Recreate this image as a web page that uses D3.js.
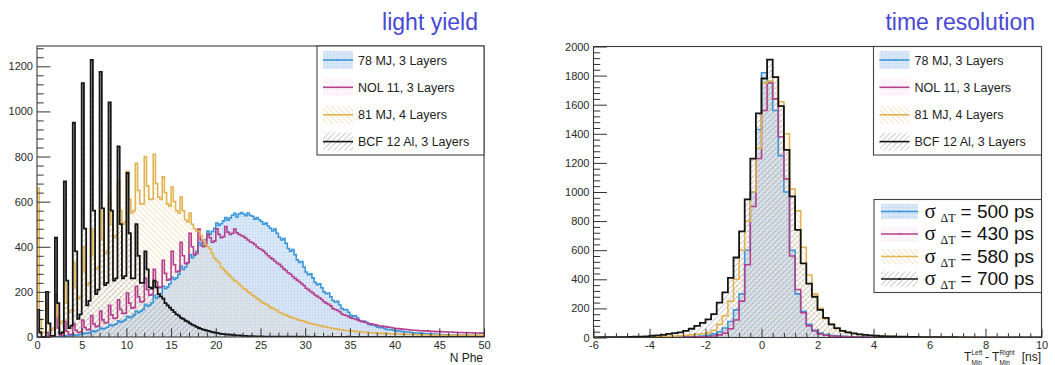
<!DOCTYPE html>
<html><head><meta charset="utf-8">
<script src="https://cdn.jsdelivr.net/npm/d3@7"></script>
<style>
body{margin:0;background:#fff;}
svg{display:block;font-family:"Liberation Sans",Arial,Helvetica,sans-serif;}
</style></head><body>
<svg id="c" width="1055" height="365"></svg>
<script>
// ---------------- DATA ----------------
const seriesNames = ["78 MJ, 3 Layers", "NOL 11, 3 Layers", "81 MJ, 4 Layers", "BCF 12 Al, 3 Layers"];
const sigmaValues = ["500 ps", "430 ps", "580 ps", "700 ps"];
const panelTitles = ["light yield", "time resolution"];

// light yield histograms: bins of 0.25 N Phe starting at 0
const lyBinStart = 0, lyBinWidth = 0.25;
const ly78MJ = [
0,0,0,0, 0,0,0,1, 2,1,2,3, 5,4,5,6, 10,8,9,11,
18,15,17,20, 28,24,27,30, 40,36,39,43, 55,50,54,58, 72,66,70,76,
92,86,90,98, 115,108,114,122, 145,136,142,152, 185,172,180,192, 225,214,222,236,
265,255,262,278, 315,300,310,328, 365,352,362,380, 420,405,415,432, 470,455,468,482,
505,495,502,515, 530,518,528,540, 548,532,545,552, 545,538,550,540, 535,522,530,520,
512,500,505,492, 482,470,478,460, 442,430,436,415, 392,380,388,365, 342,330,335,310,
288,276,280,262, 242,232,236,218, 200,192,195,178, 162,155,158,142, 126,120,122,110,
96,92,94,84, 73,70,71,64, 56,53,54,49, 43,41,42,38, 34,32,33,30,
27,26,26,24, 23,22,22,20, 19,18,18,17, 16,15,15,14, 13,13,12,12,
11,11,10,10, 9,9,9,8, 8,8,7,7, 7,7,6,6, 6,6,5,5];
const lyNOL11 = [
0,0,0,0, 20,4,0,0, 190,40,8,6, 70,25,12,12, 60,30,20,22,
75,42,32,34, 95,58,46,48, 115,76,62,64, 140,98,82,84, 165,122,104,106,
195,150,128,130, 225,178,155,158, 260,210,185,188, 300,245,218,222, 340,282,252,256,
380,320,288,292, 420,360,325,330, 460,400,365,370, 478,430,400,405, 455,440,420,425,
480,455,440,445, 490,465,455,460, 478,462,455,450, 445,438,430,422, 418,410,400,392,
388,380,370,360, 352,345,336,328, 322,312,302,295, 285,278,268,260, 252,245,236,228,
216,210,202,195, 186,180,174,166, 156,150,145,138, 126,122,118,112, 102,98,95,90,
85,82,80,76, 71,68,66,64, 60,58,56,54, 51,49,48,46, 45,43,42,40,
38,37,36,35, 34,33,32,31, 30,30,29,28, 28,27,27,26, 25,25,24,24,
24,23,23,22, 22,22,21,21, 20,20,20,19, 20,19,19,18, 18,18,17,17];
const ly81MJ = [
660,80,20,20, 150,60,30,40, 160,90,60,70, 240,150,110,120, 330,220,170,180,
400,290,230,240, 480,360,300,310, 560,430,370,380, 630,500,440,450, 690,560,500,510,
735,610,550,560, 770,650,590,590, 800,670,610,610, 810,680,620,610, 710,640,590,580,
665,600,560,550, 620,560,520,510, 550,500,480,470, 470,450,430,410, 400,390,370,350,
340,330,310,300, 290,280,270,260, 250,245,235,225, 215,210,200,195, 185,180,170,165,
155,150,145,140, 130,128,122,118, 110,105,100,98, 92,88,85,82, 78,75,72,70,
66,63,60,58, 55,53,50,48, 46,44,42,40, 38,36,35,33, 32,30,29,28,
27,26,25,24, 23,22,21,21, 20,19,19,18, 17,17,16,16, 15,15,14,14,
13,13,13,12, 12,12,11,11, 11,11,10,10, 10,10,10,9, 9,9,9,9,
9,9,8,8, 8,8,8,8, 8,8,8,7, 7,7,7,7, 7,7,7,7];
const lyBCF12 = [
120,20,0,0, 200,60,5,5, 440,150,15,20, 690,250,40,50, 950,380,80,100,
1125,480,140,160, 1228,560,190,210, 1175,570,230,240, 1040,560,250,260, 845,500,260,270,
727,460,260,260, 500,360,240,240, 380,300,220,215, 250,220,190,180, 170,150,140,130,
120,110,100,95, 85,80,72,68, 60,55,50,45, 40,36,33,30, 27,25,22,20,
18,16,14,13, 12,11,10,9, 8,7,7,6, 5,5,4,4, 4,3,3,3,
3,2,2,2, 2,2,2,1, 1,1,1,1, 1,1,1,1, 1,0,1,0,
0,1,0,0, 1,0,0,0, 0,0,1,0, 0,0,0,0, 0,0,0,1,
0,0,0,0, 0,0,0,0, 0,0,0,0, 0,0,0,0, 0,0,0,0,
0,0,0,0, 0,0,0,0, 0,0,0,0, 0,0,0,0, 0,0,0,0,
0,0,0,0, 0,0,0,0, 0,0,0,0, 0,0,0,0, 0,0,0,0];

// time resolution histograms: bins of 0.2 ns starting at -6 ns
const trBinStart = -6, trBinWidth = 0.2;
const tr78MJ = [
0,0,0,0,0,0,0,0,1,0, 1,1,1,2,2,3,4,5,7,10,
15,25,40,65,110,190,300,600,1000,1430,
1820,1760,1560,1250,1000,600,300,180,90,50,
30,20,14,10,8,6,5,4,3,3,
2,2,2,1,1,1,1,1,1,0,
1,0,1,0,0,1,0,0,0,0,
0,0,0,0,0,1,0,0,0,0];
const trNOL11 = [
0,0,0,0,0,0,0,0,0,0, 0,1,1,1,2,2,3,3,4,5,
5,10,18,30,60,120,250,500,900,1230,
1560,1750,1640,1380,1090,560,330,170,80,45,
25,15,10,8,6,5,4,3,3,2,
2,2,1,1,1,1,1,0,1,0,
0,1,0,0,0,0,1,0,0,0,
0,0,0,0,0,0,0,0,0,0];
const tr81MJ = [
0,0,0,0,1,1,1,2,2,3, 4,5,6,8,10,12,15,18,22,26,
30,50,90,150,250,400,600,800,1000,1300,
1750,1760,1790,1620,1400,1020,870,620,430,300,
200,130,90,60,45,35,28,22,18,14,
11,9,8,6,5,4,4,3,3,2,
2,2,1,1,1,1,1,1,1,0,
1,0,0,1,0,0,0,0,0,0];
const trBCF12 = [
1,2,2,2,3,3,4,5,6,8,
12,14,18,25,30,35,45,60,80,100,
125,160,240,310,410,550,730,950,1230,1540,
1780,1910,1790,1590,1290,970,740,510,370,280,
190,135,90,65,45,35,28,22,18,15,
12,10,8,7,6,5,4,4,3,3,
3,2,2,2,2,1,1,1,1,1,
1,1,1,0,1,0,0,1,0,0];

const lyXTicks = [0,5,10,15,20,25,30,35,40,45,50];
const lyYTicks = [0,200,400,600,800,1000,1200];
const trXTicks = [-6,-4,-2,0,2,4,6,8,10];
const trYTicks = [0,200,400,600,800,1000,1200,1400,1600,1800,2000];

// ---------------- STYLE ----------------
const lineColors = ["#3b97da", "#b4418e", "#e2b451", "#141414"];
const fillIds = ["fBlue", "fPink", "fYellow", "fBlack"];
const fillOrder = [1, 0, 2, 3];

const svg = d3.select("#c");
svg.append("rect").attr("width",1055).attr("height",365).attr("fill","#fff");
const defs = svg.append("defs");

function gridPattern(id, bg, lineCol) {
  const p = defs.append("pattern").attr("id", id).attr("patternUnits","userSpaceOnUse")
    .attr("width",3).attr("height",3);
  p.append("rect").attr("width",3).attr("height",3).attr("fill",bg);
  p.append("path").attr("d","M0,0.5H3M0.5,0V3").attr("stroke",lineCol).attr("stroke-width",0.6);
}
function hatchPattern(id, col, dir, w) {
  const s = 5.5;
  const p = defs.append("pattern").attr("id", id).attr("patternUnits","userSpaceOnUse")
    .attr("width",s).attr("height",s);
  const d = dir > 0
    ? `M-1,1L1,-1M0,${s}L${s},0M${s-1},${s+1}L${s+1},${s-1}`
    : `M-1,${s-1}L1,${s+1}M0,0L${s},${s}M${s-1},-1L${s+1},1`;
  p.append("path").attr("d", d).attr("stroke", col).attr("stroke-width", w).attr("fill","none");
}
gridPattern("fBlue", "rgba(195,218,243,0.6)", "rgba(160,196,236,0.35)");
gridPattern("fPink", "rgba(247,226,238,0.25)", "rgba(238,200,222,0.2)");
hatchPattern("fYellow", "#ecd196", -1, 0.75);
hatchPattern("fBlack", "#9a9a9a", 1, 0.7);

function histPath(vals, start, width, x, y) {
  let d = `M${x(start)},${y(0)}`;
  vals.forEach((v, i) => {
    d += `V${y(v)}H${x(start + (i + 1) * width)}`;
  });
  d += `V${y(0)}`;
  return d;
}

function drawPanel(cfg) {
  const x = d3.scaleLinear().domain(cfg.xDomain).range([cfg.left, cfg.right]);
  const y = d3.scaleLinear().domain(cfg.yDomain).range([cfg.bottom, cfg.top]);
  const g = svg.append("g");
  const clipId = "clip" + cfg.key;
  defs.append("clipPath").attr("id", clipId).append("rect")
    .attr("x", cfg.left).attr("y", cfg.top)
    .attr("width", cfg.right - cfg.left).attr("height", cfg.bottom - cfg.top);
  const plot = g.append("g").attr("clip-path", `url(#${clipId})`);

  fillOrder.forEach(i => {
    plot.append("path").attr("d", histPath(cfg.series[i], cfg.start, cfg.width, x, y) + "Z")
      .attr("fill", `url(#${fillIds[i]})`).attr("stroke", "none");
  });
  cfg.series.forEach((vals, i) => {
    plot.append("path").attr("d", histPath(vals, cfg.start, cfg.width, x, y))
      .attr("fill", "none").attr("stroke", lineColors[i])
      .attr("stroke-width", i === 3 ? 1.8 : 1.6).attr("stroke-linejoin","miter");
  });

  // frame
  g.append("rect").attr("x", cfg.left).attr("y", cfg.top)
    .attr("width", cfg.right - cfg.left).attr("height", cfg.bottom - cfg.top)
    .attr("fill","none").attr("stroke","#3a3a3a").attr("stroke-width",1.1);

  const styleAxis = sel => {
    sel.select(".domain").remove();
    sel.selectAll("line").attr("stroke","#333").attr("stroke-width",1);
    sel.selectAll("text").attr("font-size", 11).attr("fill","#2a2a2a")
      .attr("font-family",'"Liberation Sans",Arial,Helvetica,sans-serif');
  };
  const yLen = 0.03 * (cfg.right - cfg.left);
  const xLen = 0.03 * (cfg.bottom - cfg.top);
  g.append("g").attr("transform",`translate(${cfg.left},0)`)
    .call(d3.axisLeft(y).tickValues(cfg.yTicks).tickSize(-yLen).tickPadding(4).tickFormat(d => d))
    .call(styleAxis);
  g.append("g").attr("transform",`translate(${cfg.left},0)`)
    .call(d3.axisLeft(y).tickValues(cfg.yMinor).tickSize(-yLen / 2).tickFormat(""))
    .call(styleAxis);
  g.append("g").attr("transform",`translate(0,${cfg.bottom})`)
    .call(d3.axisBottom(x).tickValues(cfg.xTicks).tickSize(-xLen).tickPadding(4).tickFormat(d => d))
    .call(styleAxis);
  g.append("g").attr("transform",`translate(0,${cfg.bottom})`)
    .call(d3.axisBottom(x).tickValues(cfg.xMinor).tickSize(-xLen / 2).tickFormat(""))
    .call(styleAxis);

  // title
  svg.append("text").attr("x", cfg.titleX).attr("y", 30).attr("text-anchor","end")
    .attr("font-size", 23).attr("fill","#4848d6").text(cfg.title);
  return {x, y, g};
}

function legendSample(g, x0, yc, w, h, i) {
  g.append("rect").attr("x", x0).attr("y", yc - h / 2).attr("width", w).attr("height", h)
    .attr("fill", `url(#${fillIds[i]})`);
  g.append("line").attr("x1", x0).attr("x2", x0 + w).attr("y1", yc).attr("y2", yc)
    .attr("stroke", lineColors[i]).attr("stroke-width", 1.6);
  g.append("circle").attr("cx", x0 + w / 2).attr("cy", yc).attr("r", 0.9).attr("fill", lineColors[i]);
}

function nameLegend(box) {
  const g = svg.append("g");
  g.append("rect").attr("x", box.x0).attr("y", box.y0).attr("width", box.x1 - box.x0)
    .attr("height", box.y1 - box.y0).attr("fill","#fff").attr("stroke","#444").attr("stroke-width",1.1);
  const rows = [60, 87.3, 114.8, 141.6];
  seriesNames.forEach((n, i) => {
    legendSample(g, box.x0 + 6, rows[i], 30, 18, i);
    g.append("text").attr("x", box.x0 + 41).attr("y", rows[i]).attr("dy","0.36em")
      .attr("font-size", 12.5).attr("fill","#222").text(n);
  });
}

// ---------------- PANELS ----------------
drawPanel({
  key: "L", left: 37, right: 484, top: 46, bottom: 337,
  xDomain: [0, 50], yDomain: [0, 1290],
  start: lyBinStart, width: lyBinWidth,
  series: [ly78MJ, lyNOL11, ly81MJ, lyBCF12],
  xTicks: lyXTicks, yTicks: lyYTicks,
  xMinor: d3.range(0, 51, 1).filter(v => v % 5 !== 0),
  yMinor: d3.range(0, 1290, 40).filter(v => v % 200 !== 0),
  title: panelTitles[0], titleX: 478
});
drawPanel({
  key: "R", left: 593.5, right: 1041.5, top: 46.5, bottom: 337.5,
  xDomain: [-6, 10], yDomain: [0, 2000],
  start: trBinStart, width: trBinWidth,
  series: [tr78MJ, trNOL11, tr81MJ, trBCF12],
  xTicks: trXTicks, yTicks: trYTicks,
  xMinor: d3.range(-6, 10.01, 0.4).filter(v => Math.abs(v / 2 - Math.round(v / 2)) > 0.01),
  yMinor: d3.range(0, 2000, 40).filter(v => v % 200 !== 0),
  title: panelTitles[1], titleX: 1035
});

nameLegend({x0: 317, x1: 484, y0: 46, y1: 155});
nameLegend({x0: 873.5, x1: 1041.5, y0: 46.5, y1: 155});

// sigma legend
(function () {
  const g = svg.append("g");
  const box = {x0: 874, x1: 1041.5, y0: 199.5, y1: 292.5};
  g.append("rect").attr("x", box.x0).attr("y", box.y0).attr("width", box.x1 - box.x0)
    .attr("height", box.y1 - box.y0).attr("fill","#fff").attr("stroke","#444").attr("stroke-width",1.1);
  const rows = [211.5, 234, 256.5, 279];
  sigmaValues.forEach((s, i) => {
    legendSample(g, box.x0 + 7, rows[i], 37, 15, i);
    g.append("text").attr("x", 924.5).attr("y", rows[i] + 6).attr("fill","#111")
      .attr("font-family",'"Liberation Serif","Times New Roman",serif')
      .attr("font-size", 21).text("σ");
    g.append("text").attr("x", 940.5).attr("y", rows[i] + 10).attr("fill","#111")
      .attr("font-family",'"Liberation Serif","Times New Roman",serif')
      .attr("font-size", 12).text("ΔT");
    g.append("text").attr("x", 1034).attr("y", rows[i] + 6).attr("fill","#111")
      .attr("text-anchor","end").attr("font-size", 19).text("= " + s);
  });
})();

// axis titles
svg.append("text").attr("x", 483).attr("y", 361.5).attr("text-anchor","end")
  .attr("font-size", 12).attr("fill","#222").text("N Phe");
(function () {
  const g = svg.append("g").attr("fill","#222");
  const base = 361;
  g.append("text").attr("x", 964).attr("y", base).attr("font-size", 12).text("T");
  g.append("text").attr("x", 971.5).attr("y", base - 6.5).attr("font-size", 6.5).text("Left");
  g.append("text").attr("x", 971.5).attr("y", base + 3.5).attr("font-size", 6.5).text("Min");
  g.append("text").attr("x", 985).attr("y", base).attr("font-size", 12).text("-");
  g.append("text").attr("x", 992).attr("y", base).attr("font-size", 12).text("T");
  g.append("text").attr("x", 999.5).attr("y", base - 6.5).attr("font-size", 6.5).text("Right");
  g.append("text").attr("x", 999.5).attr("y", base + 3.5).attr("font-size", 6.5).text("Min");
  g.append("text").attr("x", 1041).attr("y", base).attr("text-anchor","end").attr("font-size", 12).text("[ns]");
})();
</script>
</body></html>
